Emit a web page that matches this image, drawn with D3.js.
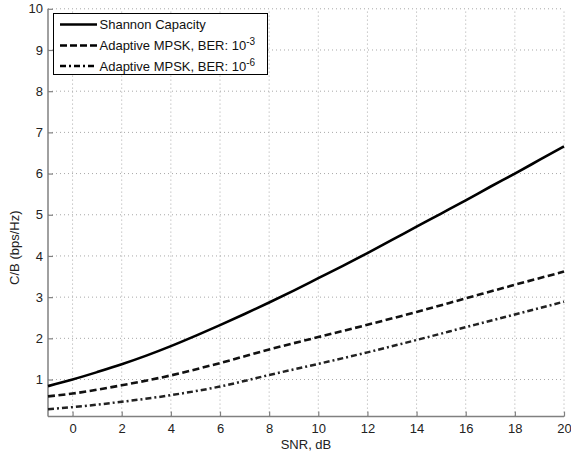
<!DOCTYPE html>
<html>
<head>
<meta charset="utf-8">
<script src="https://cdn.jsdelivr.net/npm/d3@7/dist/d3.min.js"></script>
<style>
body{margin:0;background:#fff;}
svg{display:block;font-family:"Liberation Sans",Arial,Helvetica,sans-serif;}
</style>
</head>
<body>
<svg id="chart" width="571" height="452"></svg>
<script>
// SNR points (dB)
const snrShannon = [-1,0,1,2,3,4,5,6,7,8,9,10,11,12,13,14,15,16,17,18,19,20];
const shannon = [0.84,1.00,1.18,1.37,1.58,1.81,2.06,2.32,2.59,2.87,3.16,3.46,3.76,4.07,4.39,4.71,5.03,5.35,5.68,6.00,6.33,6.66];
const snrMpsk = [-1,0,2,4,6,8,10,12,14,16,18,20];
const mpsk3 = [0.59,0.66,0.86,1.10,1.40,1.73,2.03,2.33,2.64,2.97,3.30,3.62];
const mpsk6 = [0.28,0.33,0.46,0.62,0.83,1.11,1.38,1.66,1.96,2.27,2.58,2.89];
const xTicks = [0,2,4,6,8,10,12,14,16,18,20];
const yTicks = [1,2,3,4,5,6,7,8,9,10];
const legendLabels = [
  {text:"Shannon Capacity", sup:null},
  {text:"Adaptive MPSK, BER: 10", sup:"-3"},
  {text:"Adaptive MPSK, BER: 10", sup:"-6"}
];

const svg = d3.select("#chart");
const L = 48, R = 564, T = 8.8, B = 416.6;
const x = d3.scaleLinear().domain([-1,20]).range([L,R]);
const y = d3.scaleLinear().domain([0.1,10]).range([B,T]);
const FS = "13px";

// grid
const grid = svg.append("g");
grid.selectAll(".gx").data(xTicks).enter().append("line")
  .attr("x1",d=>x(d)).attr("x2",d=>x(d)).attr("y1",B).attr("y2",T)
  .attr("stroke","#a8a8a8").attr("stroke-width",1).attr("stroke-dasharray","1,3");
grid.selectAll(".gy").data(yTicks).enter().append("line")
  .attr("x1",L).attr("x2",R).attr("y1",d=>y(d)).attr("y2",d=>y(d))
  .attr("stroke","#a8a8a8").attr("stroke-width",1).attr("stroke-dasharray","1,3");

// axes
const axCol = "#808080";
const xAxis = svg.append("g").attr("transform",`translate(0,${B})`)
  .call(d3.axisBottom(x).tickValues(xTicks).tickSizeInner(-5).tickSizeOuter(0).tickPadding(7));
const yAxis = svg.append("g").attr("transform",`translate(${L},0)`)
  .call(d3.axisLeft(y).tickValues(yTicks).tickSizeInner(-5).tickSizeOuter(0).tickPadding(5));
[xAxis,yAxis].forEach(a=>{
  a.select(".domain").attr("stroke",axCol).attr("stroke-width",1.5);
  a.selectAll(".tick line").attr("stroke",axCol).attr("stroke-width",1.2);
  a.selectAll(".tick text").attr("fill","#222").style("font-size",FS)
   .style("font-family","'Liberation Sans',Arial,sans-serif");
});
xAxis.select(".domain").attr("d",`M${L},0H${R}`);
yAxis.select(".domain").attr("d",`M0,${B}V${T}`);

// curves
const line = (xs) => d3.line().x((d,i)=>x(xs[i])).y(d=>y(d)).curve(d3.curveMonotoneX);
const curves = svg.append("g");
curves.append("path").datum(shannon).attr("d",line(snrShannon))
  .attr("fill","none").attr("stroke","#000").attr("stroke-width",2.6);
curves.append("path").datum(mpsk3).attr("d",line(snrMpsk))
  .attr("fill","none").attr("stroke","#111").attr("stroke-width",2.6).attr("stroke-dasharray","7,3.5");
curves.append("path").datum(mpsk6).attr("d",line(snrMpsk))
  .attr("fill","none").attr("stroke","#222").attr("stroke-width",2.5).attr("stroke-dasharray","6,3,2,3");

// legend
const lg = svg.append("g");
lg.append("rect").attr("x",53.5).attr("y",13.5).attr("width",214).attr("height",61)
  .attr("fill","#fff").attr("stroke","#000").attr("stroke-width",1);
const rowsY = [24.5,45.5,66];
const dashes = [null,"7,3","6,3,2,3"];
const widths = [2.6,2.6,2.4];
legendLabels.forEach((d,i)=>{
  lg.append("line").attr("x1",60).attr("x2",97).attr("y1",rowsY[i]).attr("y2",rowsY[i])
    .attr("stroke","#000").attr("stroke-width",widths[i])
    .attr("stroke-dasharray",dashes[i]);
  const t = lg.append("text").attr("x",99.5).attr("y",rowsY[i]+4.5)
    .attr("fill","#111").style("font-size",FS).text(d.text);
  if(d.sup){
    t.append("tspan").attr("dy",-5).style("font-size","10px").text(d.sup);
  }
});

// axis labels
svg.append("text").attr("x",(L+R)/2).attr("y",448.5).attr("text-anchor","middle")
  .attr("fill","#222").style("font-size","13px").text("SNR, dB");
svg.append("text").attr("transform",`translate(19,${(T+B)/2+35}) rotate(-90)`)
  .attr("text-anchor","middle").attr("fill","#222").style("font-size","13px").text("C/B (bps/Hz)");
</script>
</body>
</html>
